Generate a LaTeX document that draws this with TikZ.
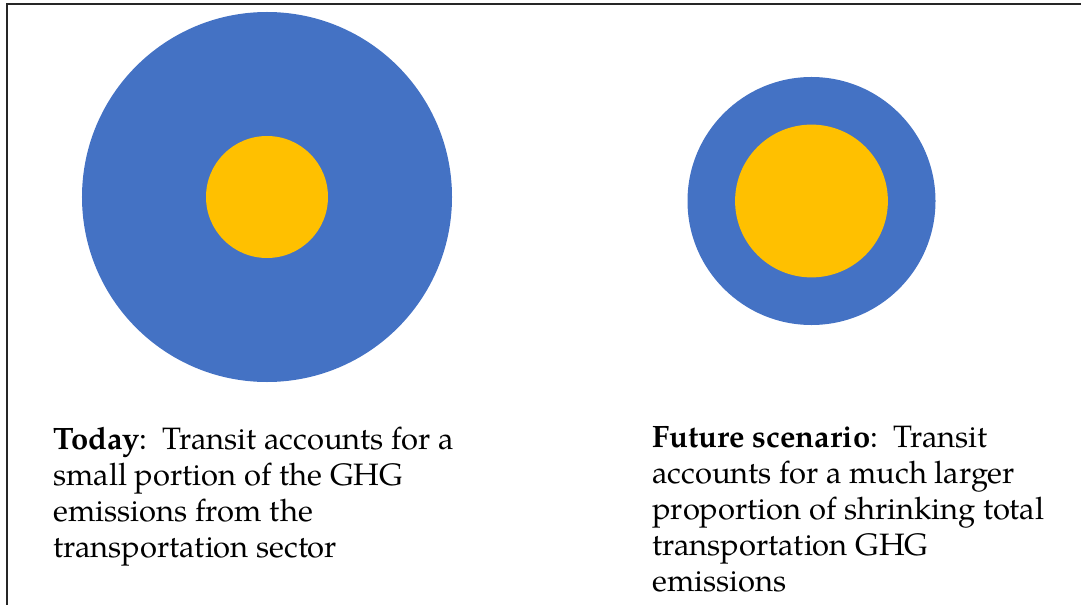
\documentclass[tikz,border=0pt]{standalone}
\usepackage{fontspec}
\setmainfont{TeX Gyre Pagella}
\usepackage{tikz}
\usetikzlibrary{positioning}
\definecolor{sectorblue}{HTML}{4472C4}
\definecolor{transitgold}{HTML}{FFC000}
\tikzset{
x=0.25mm, y=-0.25mm, % one unit per pixel, y running downwards
sector/.style={circle, fill=sectorblue, inner sep=0pt}, % total transportation emissions
transit/.style={circle, fill=transitgold, inner sep=0pt}, % share of transit
caption/.style={anchor=north west, inner sep=0pt, align=left, font=\fontsize{22}{25.5}\selectfont}, % text under each disc
frameline/.style={line width=1.2pt, draw=black!85}, % top and left rule
}

\begin{document}
\begin{tikzpicture}
    \useasboundingbox (0,0) rectangle (1081,605);
    \draw[frameline] (7,605) -- (7,4) -- (1081,4);

    \node[sector, minimum size=92.5mm] (today) at (267,197) {};
    \node[transit, minimum size=30.5mm] (todayTransit) at (today.center) {};

    \node[sector, minimum size=62mm] (future) at (811.5,201) {};
    \node[transit, minimum size=38.2mm] (futureTransit) at (future.center) {};

    \node[caption] (todayText) at (53,427) {\textbf{Today}:\ \ Transit accounts for a\\
        small portion of the GHG\\ emissions from the\\ transportation sector};
    \node[caption] (futureText) at (652,426) {\textbf{Future scenario}:\ \ Transit\\
        accounts for a much larger\\ proportion of shrinking total\\
        transportation GHG\\ emissions};
\end{tikzpicture}
\end{document}
